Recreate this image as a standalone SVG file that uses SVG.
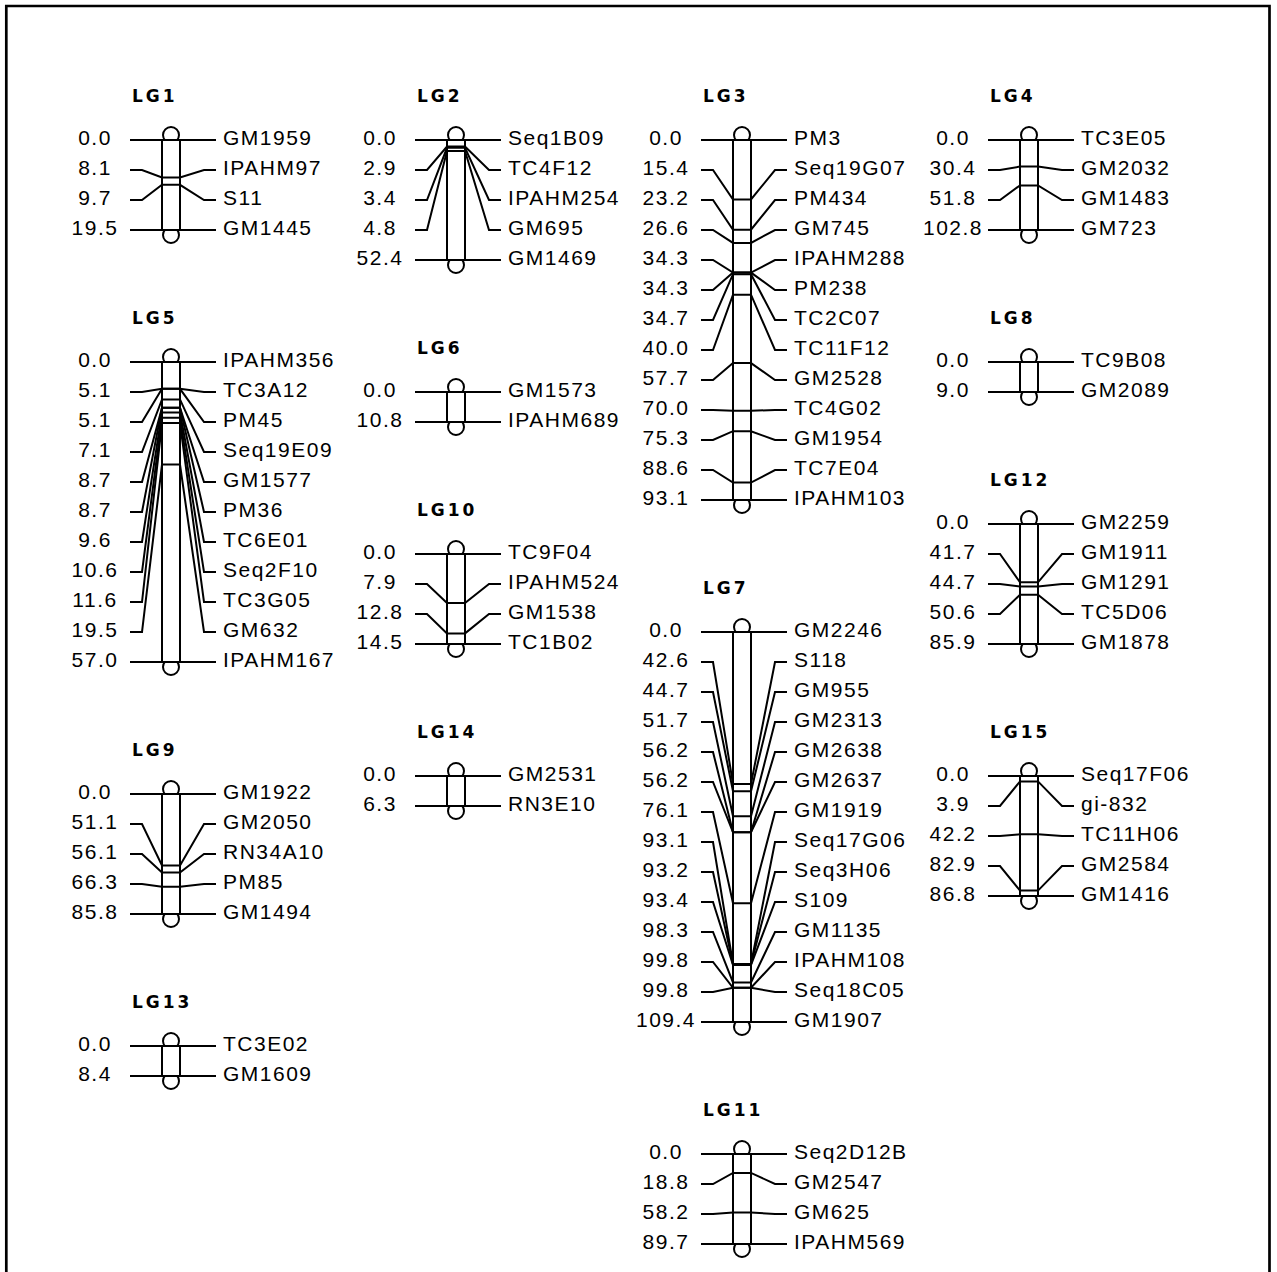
<svg xmlns="http://www.w3.org/2000/svg" width="1277" height="1272" viewBox="0 0 1277 1272">
<style>
.h{font-family:"DejaVu Sans","Liberation Sans",sans-serif;font-weight:bold;font-size:17px;letter-spacing:3px;fill:#000}
.n{font-family:"Liberation Sans",Arial,sans-serif;font-size:21px;letter-spacing:1.5px;text-anchor:middle;fill:#000}
.t{font-family:"Liberation Sans",Arial,sans-serif;font-size:21px;letter-spacing:1.5px;fill:#000}
.bar,.cap{fill:#fff;stroke:#000;stroke-width:2}
.c polyline{fill:none;stroke:#000;stroke-width:2;stroke-linejoin:miter}
</style>
<rect x="0" y="0" width="1277" height="1272" fill="#fff"/>
<path d="M6.3,1272 V6 H1269.5 V1272" fill="none" stroke="#000" stroke-width="2.7"/>

<g id="LG1">
<text class="h" x="132" y="101.5">LG1</text>
<circle class="cap" cx="171" cy="135" r="8"/><circle class="cap" cx="171" cy="235" r="8"/>
<rect class="bar" x="162" y="140" width="18" height="90"/>
<text class="n" x="95" y="145">0.0</text><text class="n" x="95" y="175">8.1</text><text class="n" x="95" y="205">9.7</text><text class="n" x="95" y="235">19.5</text>
<text class="t" x="223" y="145">GM1959</text><text class="t" x="223" y="175">IPAHM97</text><text class="t" x="223" y="205">S11</text><text class="t" x="223" y="235">GM1445</text>
</g>

<g id="LG2">
<text class="h" x="417" y="101.5">LG2</text>
<circle class="cap" cx="456" cy="135" r="8"/><circle class="cap" cx="456" cy="265" r="8"/>
<rect class="bar" x="447" y="140" width="18" height="120"/>
<text class="n" x="380" y="145">0.0</text><text class="n" x="380" y="175">2.9</text><text class="n" x="380" y="205">3.4</text><text class="n" x="380" y="235">4.8</text><text class="n" x="380" y="265">52.4</text>
<text class="t" x="508" y="145">Seq1B09</text><text class="t" x="508" y="175">TC4F12</text><text class="t" x="508" y="205">IPAHM254</text><text class="t" x="508" y="235">GM695</text><text class="t" x="508" y="265">GM1469</text>
</g>

<g id="LG3">
<text class="h" x="703" y="101.5">LG3</text>
<circle class="cap" cx="742" cy="135" r="8"/><circle class="cap" cx="742" cy="505" r="8"/>
<rect class="bar" x="733" y="140" width="18" height="360"/>
<text class="n" x="666" y="145">0.0</text><text class="n" x="666" y="175">15.4</text><text class="n" x="666" y="205">23.2</text><text class="n" x="666" y="235">26.6</text><text class="n" x="666" y="265">34.3</text><text class="n" x="666" y="295">34.3</text><text class="n" x="666" y="325">34.7</text><text class="n" x="666" y="355">40.0</text><text class="n" x="666" y="385">57.7</text><text class="n" x="666" y="415">70.0</text><text class="n" x="666" y="445">75.3</text><text class="n" x="666" y="475">88.6</text><text class="n" x="666" y="505">93.1</text>
<text class="t" x="794" y="145">PM3</text><text class="t" x="794" y="175">Seq19G07</text><text class="t" x="794" y="205">PM434</text><text class="t" x="794" y="235">GM745</text><text class="t" x="794" y="265">IPAHM288</text><text class="t" x="794" y="295">PM238</text><text class="t" x="794" y="325">TC2C07</text><text class="t" x="794" y="355">TC11F12</text><text class="t" x="794" y="385">GM2528</text><text class="t" x="794" y="415">TC4G02</text><text class="t" x="794" y="445">GM1954</text><text class="t" x="794" y="475">TC7E04</text><text class="t" x="794" y="505">IPAHM103</text>
</g>

<g id="LG4">
<text class="h" x="990" y="101.5">LG4</text>
<circle class="cap" cx="1029" cy="135" r="8"/><circle class="cap" cx="1029" cy="235" r="8"/>
<rect class="bar" x="1020" y="140" width="18" height="90"/>
<text class="n" x="953" y="145">0.0</text><text class="n" x="953" y="175">30.4</text><text class="n" x="953" y="205">51.8</text><text class="n" x="953" y="235">102.8</text>
<text class="t" x="1081" y="145">TC3E05</text><text class="t" x="1081" y="175">GM2032</text><text class="t" x="1081" y="205">GM1483</text><text class="t" x="1081" y="235">GM723</text>
</g>

<g id="LG5">
<text class="h" x="132" y="323.5">LG5</text>
<circle class="cap" cx="171" cy="357" r="8"/><circle class="cap" cx="171" cy="667" r="8"/>
<rect class="bar" x="162" y="362" width="18" height="300"/>
<text class="n" x="95" y="367">0.0</text><text class="n" x="95" y="397">5.1</text><text class="n" x="95" y="427">5.1</text><text class="n" x="95" y="457">7.1</text><text class="n" x="95" y="487">8.7</text><text class="n" x="95" y="517">8.7</text><text class="n" x="95" y="547">9.6</text><text class="n" x="95" y="577">10.6</text><text class="n" x="95" y="607">11.6</text><text class="n" x="95" y="637">19.5</text><text class="n" x="95" y="667">57.0</text>
<text class="t" x="223" y="367">IPAHM356</text><text class="t" x="223" y="397">TC3A12</text><text class="t" x="223" y="427">PM45</text><text class="t" x="223" y="457">Seq19E09</text><text class="t" x="223" y="487">GM1577</text><text class="t" x="223" y="517">PM36</text><text class="t" x="223" y="547">TC6E01</text><text class="t" x="223" y="577">Seq2F10</text><text class="t" x="223" y="607">TC3G05</text><text class="t" x="223" y="637">GM632</text><text class="t" x="223" y="667">IPAHM167</text>
</g>

<g id="LG6">
<text class="h" x="417" y="353.5">LG6</text>
<circle class="cap" cx="456" cy="387" r="8"/><circle class="cap" cx="456" cy="427" r="8"/>
<rect class="bar" x="447" y="392" width="18" height="30"/>
<text class="n" x="380" y="397">0.0</text><text class="n" x="380" y="427">10.8</text>
<text class="t" x="508" y="397">GM1573</text><text class="t" x="508" y="427">IPAHM689</text>
</g>

<g id="LG8">
<text class="h" x="990" y="323.5">LG8</text>
<circle class="cap" cx="1029" cy="357" r="8"/><circle class="cap" cx="1029" cy="397" r="8"/>
<rect class="bar" x="1020" y="362" width="18" height="30"/>
<text class="n" x="953" y="367">0.0</text><text class="n" x="953" y="397">9.0</text>
<text class="t" x="1081" y="367">TC9B08</text><text class="t" x="1081" y="397">GM2089</text>
</g>

<g id="LG10">
<text class="h" x="417" y="515.5">LG10</text>
<circle class="cap" cx="456" cy="549" r="8"/><circle class="cap" cx="456" cy="649" r="8"/>
<rect class="bar" x="447" y="554" width="18" height="90"/>
<text class="n" x="380" y="559">0.0</text><text class="n" x="380" y="589">7.9</text><text class="n" x="380" y="619">12.8</text><text class="n" x="380" y="649">14.5</text>
<text class="t" x="508" y="559">TC9F04</text><text class="t" x="508" y="589">IPAHM524</text><text class="t" x="508" y="619">GM1538</text><text class="t" x="508" y="649">TC1B02</text>
</g>

<g id="LG12">
<text class="h" x="990" y="485.5">LG12</text>
<circle class="cap" cx="1029" cy="519" r="8"/><circle class="cap" cx="1029" cy="649" r="8"/>
<rect class="bar" x="1020" y="524" width="18" height="120"/>
<text class="n" x="953" y="529">0.0</text><text class="n" x="953" y="559">41.7</text><text class="n" x="953" y="589">44.7</text><text class="n" x="953" y="619">50.6</text><text class="n" x="953" y="649">85.9</text>
<text class="t" x="1081" y="529">GM2259</text><text class="t" x="1081" y="559">GM1911</text><text class="t" x="1081" y="589">GM1291</text><text class="t" x="1081" y="619">TC5D06</text><text class="t" x="1081" y="649">GM1878</text>
</g>

<g id="LG7">
<text class="h" x="703" y="593.5">LG7</text>
<circle class="cap" cx="742" cy="627" r="8"/><circle class="cap" cx="742" cy="1027" r="8"/>
<rect class="bar" x="733" y="632" width="18" height="390"/>
<text class="n" x="666" y="637">0.0</text><text class="n" x="666" y="667">42.6</text><text class="n" x="666" y="697">44.7</text><text class="n" x="666" y="727">51.7</text><text class="n" x="666" y="757">56.2</text><text class="n" x="666" y="787">56.2</text><text class="n" x="666" y="817">76.1</text><text class="n" x="666" y="847">93.1</text><text class="n" x="666" y="877">93.2</text><text class="n" x="666" y="907">93.4</text><text class="n" x="666" y="937">98.3</text><text class="n" x="666" y="967">99.8</text><text class="n" x="666" y="997">99.8</text><text class="n" x="666" y="1027">109.4</text>
<text class="t" x="794" y="637">GM2246</text><text class="t" x="794" y="667">S118</text><text class="t" x="794" y="697">GM955</text><text class="t" x="794" y="727">GM2313</text><text class="t" x="794" y="757">GM2638</text><text class="t" x="794" y="787">GM2637</text><text class="t" x="794" y="817">GM1919</text><text class="t" x="794" y="847">Seq17G06</text><text class="t" x="794" y="877">Seq3H06</text><text class="t" x="794" y="907">S109</text><text class="t" x="794" y="937">GM1135</text><text class="t" x="794" y="967">IPAHM108</text><text class="t" x="794" y="997">Seq18C05</text><text class="t" x="794" y="1027">GM1907</text>
</g>

<g id="LG14">
<text class="h" x="417" y="737.5">LG14</text>
<circle class="cap" cx="456" cy="771" r="8"/><circle class="cap" cx="456" cy="811" r="8"/>
<rect class="bar" x="447" y="776" width="18" height="30"/>
<text class="n" x="380" y="781">0.0</text><text class="n" x="380" y="811">6.3</text>
<text class="t" x="508" y="781">GM2531</text><text class="t" x="508" y="811">RN3E10</text>
</g>

<g id="LG15">
<text class="h" x="990" y="737.5">LG15</text>
<circle class="cap" cx="1029" cy="771" r="8"/><circle class="cap" cx="1029" cy="901" r="8"/>
<rect class="bar" x="1020" y="776" width="18" height="120"/>
<text class="n" x="953" y="781">0.0</text><text class="n" x="953" y="811">3.9</text><text class="n" x="953" y="841">42.2</text><text class="n" x="953" y="871">82.9</text><text class="n" x="953" y="901">86.8</text>
<text class="t" x="1081" y="781">Seq17F06</text><text class="t" x="1081" y="811">gi-832</text><text class="t" x="1081" y="841">TC11H06</text><text class="t" x="1081" y="871">GM2584</text><text class="t" x="1081" y="901">GM1416</text>
</g>

<g id="LG9">
<text class="h" x="132" y="755.5">LG9</text>
<circle class="cap" cx="171" cy="789" r="8"/><circle class="cap" cx="171" cy="919" r="8"/>
<rect class="bar" x="162" y="794" width="18" height="120"/>
<text class="n" x="95" y="799">0.0</text><text class="n" x="95" y="829">51.1</text><text class="n" x="95" y="859">56.1</text><text class="n" x="95" y="889">66.3</text><text class="n" x="95" y="919">85.8</text>
<text class="t" x="223" y="799">GM1922</text><text class="t" x="223" y="829">GM2050</text><text class="t" x="223" y="859">RN34A10</text><text class="t" x="223" y="889">PM85</text><text class="t" x="223" y="919">GM1494</text>
</g>

<g id="LG13">
<text class="h" x="132" y="1007.5">LG13</text>
<circle class="cap" cx="171" cy="1041" r="8"/><circle class="cap" cx="171" cy="1081" r="8"/>
<rect class="bar" x="162" y="1046" width="18" height="30"/>
<text class="n" x="95" y="1051">0.0</text><text class="n" x="95" y="1081">8.4</text>
<text class="t" x="223" y="1051">TC3E02</text><text class="t" x="223" y="1081">GM1609</text>
</g>

<g id="LG11">
<text class="h" x="703" y="1115.5">LG11</text>
<circle class="cap" cx="742" cy="1149" r="8"/><circle class="cap" cx="742" cy="1249" r="8"/>
<rect class="bar" x="733" y="1154" width="18" height="90"/>
<text class="n" x="666" y="1159">0.0</text><text class="n" x="666" y="1189">18.8</text><text class="n" x="666" y="1219">58.2</text><text class="n" x="666" y="1249">89.7</text>
<text class="t" x="794" y="1159">Seq2D12B</text><text class="t" x="794" y="1189">GM2547</text><text class="t" x="794" y="1219">GM625</text><text class="t" x="794" y="1249">IPAHM569</text>
</g>

<g id="connectors" class="c">
<polyline points="130,140 216,140"/>
<polyline points="130,170 142,170 162,177.4 180,177.4 204,170 216,170"/>
<polyline points="130,200 142,200 162,184.8 180,184.8 204,200 216,200"/>
<polyline points="130,230 216,230"/>
<polyline points="415,140 501,140"/>
<polyline points="415,170 427,170 447,146.6 465,146.6 489,170 501,170"/>
<polyline points="415,200 427,200 447,147.8 465,147.8 489,200 501,200"/>
<polyline points="415,230 427,230 447,151 465,151 489,230 501,230"/>
<polyline points="415,260 501,260"/>
<polyline points="701,140 787,140"/>
<polyline points="701,170 713,170 733,199.5 751,199.5 775,170 787,170"/>
<polyline points="701,200 713,200 733,229.7 751,229.7 775,200 787,200"/>
<polyline points="701,230 713,230 733,242.9 751,242.9 775,230 787,230"/>
<polyline points="701,260 713,260 733,272.6 751,272.6 775,260 787,260"/>
<polyline points="701,290 713,290 733,272.6 751,272.6 775,290 787,290"/>
<polyline points="701,320 713,320 733,274.2 751,274.2 775,320 787,320"/>
<polyline points="701,350 713,350 733,294.7 751,294.7 775,350 787,350"/>
<polyline points="701,380 713,380 733,363.1 751,363.1 775,380 787,380"/>
<polyline points="701,410 713,410 733,410.7 751,410.7 775,410 787,410"/>
<polyline points="701,440 713,440 733,431.2 751,431.2 775,440 787,440"/>
<polyline points="701,470 713,470 733,482.6 751,482.6 775,470 787,470"/>
<polyline points="701,500 787,500"/>
<polyline points="988,140 1074,140"/>
<polyline points="988,170 1000,170 1020,166.6 1038,166.6 1062,170 1074,170"/>
<polyline points="988,200 1000,200 1020,185.4 1038,185.4 1062,200 1074,200"/>
<polyline points="988,230 1074,230"/>
<polyline points="130,362 216,362"/>
<polyline points="130,392 142,392 162,388.8 180,388.8 204,392 216,392"/>
<polyline points="130,422 142,422 162,388.8 180,388.8 204,422 216,422"/>
<polyline points="130,452 142,452 162,399.4 180,399.4 204,452 216,452"/>
<polyline points="130,482 142,482 162,407.8 180,407.8 204,482 216,482"/>
<polyline points="130,512 142,512 162,407.8 180,407.8 204,512 216,512"/>
<polyline points="130,542 142,542 162,412.5 180,412.5 204,542 216,542"/>
<polyline points="130,572 142,572 162,417.8 180,417.8 204,572 216,572"/>
<polyline points="130,602 142,602 162,423.1 180,423.1 204,602 216,602"/>
<polyline points="130,632 142,632 162,464.6 180,464.6 204,632 216,632"/>
<polyline points="130,662 216,662"/>
<polyline points="415,392 501,392"/>
<polyline points="415,422 501,422"/>
<polyline points="988,362 1074,362"/>
<polyline points="988,392 1074,392"/>
<polyline points="415,554 501,554"/>
<polyline points="415,584 427,584 447,603 465,603 489,584 501,584"/>
<polyline points="415,614 427,614 447,633.4 465,633.4 489,614 501,614"/>
<polyline points="415,644 501,644"/>
<polyline points="988,524 1074,524"/>
<polyline points="988,554 1000,554 1020,582.3 1038,582.3 1062,554 1074,554"/>
<polyline points="988,584 1000,584 1020,586.4 1038,586.4 1062,584 1074,584"/>
<polyline points="988,614 1000,614 1020,594.7 1038,594.7 1062,614 1074,614"/>
<polyline points="988,644 1074,644"/>
<polyline points="701,632 787,632"/>
<polyline points="701,662 713,662 733,783.9 751,783.9 775,662 787,662"/>
<polyline points="701,692 713,692 733,791.3 751,791.3 775,692 787,692"/>
<polyline points="701,722 713,722 733,816.3 751,816.3 775,722 787,722"/>
<polyline points="701,752 713,752 733,832.3 751,832.3 775,752 787,752"/>
<polyline points="701,782 713,782 733,832.3 751,832.3 775,782 787,782"/>
<polyline points="701,812 713,812 733,903.3 751,903.3 775,812 787,812"/>
<polyline points="701,842 713,842 733,963.9 751,963.9 775,842 787,842"/>
<polyline points="701,872 713,872 733,964.2 751,964.2 775,872 787,872"/>
<polyline points="701,902 713,902 733,965 751,965 775,902 787,902"/>
<polyline points="701,932 713,932 733,982.4 751,982.4 775,932 787,932"/>
<polyline points="701,962 713,962 733,987.8 751,987.8 775,962 787,962"/>
<polyline points="701,992 713,992 733,987.8 751,987.8 775,992 787,992"/>
<polyline points="701,1022 787,1022"/>
<polyline points="415,776 501,776"/>
<polyline points="415,806 501,806"/>
<polyline points="988,776 1074,776"/>
<polyline points="988,806 1000,806 1020,781.4 1038,781.4 1062,806 1074,806"/>
<polyline points="988,836 1000,836 1020,834.3 1038,834.3 1062,836 1074,836"/>
<polyline points="988,866 1000,866 1020,890.6 1038,890.6 1062,866 1074,866"/>
<polyline points="988,896 1074,896"/>
<polyline points="130,794 216,794"/>
<polyline points="130,824 142,824 162,865.5 180,865.5 204,824 216,824"/>
<polyline points="130,854 142,854 162,872.5 180,872.5 204,854 216,854"/>
<polyline points="130,884 142,884 162,886.7 180,886.7 204,884 216,884"/>
<polyline points="130,914 216,914"/>
<polyline points="130,1046 216,1046"/>
<polyline points="130,1076 216,1076"/>
<polyline points="701,1154 787,1154"/>
<polyline points="701,1184 713,1184 733,1172.9 751,1172.9 775,1184 787,1184"/>
<polyline points="701,1214 713,1214 733,1212.4 751,1212.4 775,1214 787,1214"/>
<polyline points="701,1244 787,1244"/>
</g>
</svg>
